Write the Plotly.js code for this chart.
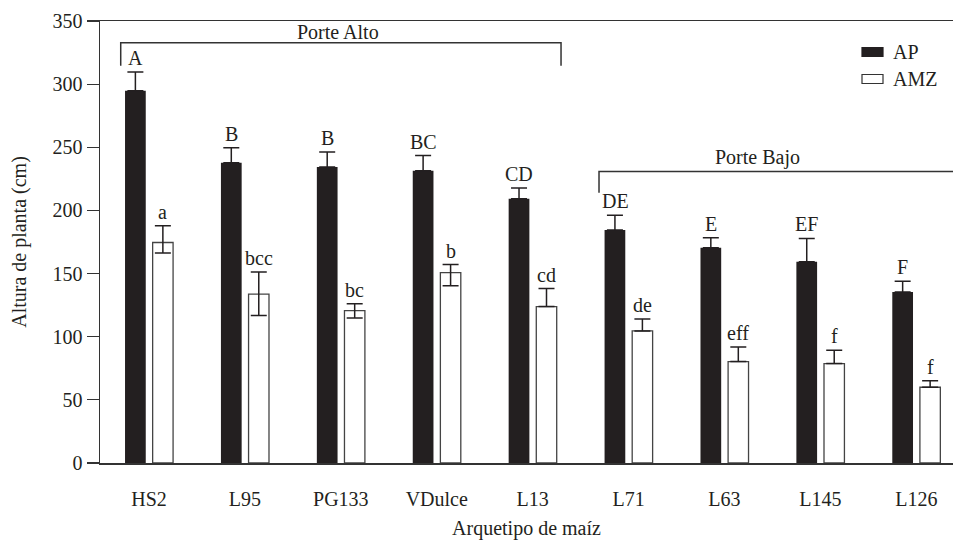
<!DOCTYPE html>
<html>
<head>
<meta charset="utf-8">
<script src="https://cdn.plot.ly/plotly-3.0.1.min.js"></script>
<style>
  html, body { margin: 0; padding: 0; background: #fff; }
  #chart { width: 953px; height: 541px; }
</style>
</head>
<body>
<div id="chart"></div>
<script>
// Plant height by maize archetype: AP vs AMZ
const categories = ["HS2", "L95", "PG133", "VDulce", "L13", "L71", "L63", "L145", "L126"];

const apValues = [294.7, 237.7, 234.3, 231.4, 209.2, 184.6, 170.4, 159.3, 135.5];
const apErrUp  = [15, 12, 12, 12, 8.5, 11.5, 8, 18.5, 8.5];
const apLetters = ["A", "B", "B", "BC", "CD", "DE", "E", "EF", "F"];

const amzValues  = [174.6, 133.7, 120.7, 150.8, 123.9, 104.6, 80.3, 78.7, 60];
const amzErrUp   = [13.2, 17.6, 5.5, 6.3, 14.2, 9.5, 11.6, 10.6, 5.2];
const amzErrDown = [8.4, 17, 5.8, 10.5, 0, 0, 0, 0, 0];
const amzLetters = ["a", "bcc", "bc", "b", "cd", "de", "eff", "f", "f"];

const seriesNames = ["AP", "AMZ"];
const yTicks = [0, 50, 100, 150, 200, 250, 300, 350];

const serif = "'Liberation Serif', 'DejaVu Serif', serif";
const ink = "#231f20";
const fs = 20;
const xIdx = categories.map((_, i) => i);

const traces = [
  {
    type: "bar", name: seriesNames[0], x: xIdx, y: apValues,
    offset: -0.25, width: 0.216, showlegend: false,
    marker: { color: ink, line: { color: ink, width: 0 } },
    error_y: { type: "data", array: apErrUp, arrayminus: apValues.map(() => 0),
               symmetric: false, color: ink, thickness: 1.5, width: 8 }
  },
  {
    type: "bar", name: seriesNames[1], x: xIdx, y: amzValues,
    offset: 0.038, width: 0.213, showlegend: false,
    marker: { color: "#ffffff", line: { color: "#444", width: 1.3 } },
    error_y: { type: "data", array: amzErrUp, arrayminus: amzErrDown,
               symmetric: false, color: ink, thickness: 1.5, width: 8 }
  }
];

const annotations = [];
categories.forEach((c, i) => {
  annotations.push({
    x: i, y: apValues[i] + apErrUp[i], xref: "x", yref: "y",
    xshift: -13.5, yshift: 1, yanchor: "bottom", showarrow: false,
    text: apLetters[i], font: { family: serif, size: fs, color: ink }
  });
  annotations.push({
    x: i, y: amzValues[i] + amzErrUp[i], xref: "x", yref: "y",
    xshift: 13.8, yshift: 1, yanchor: "bottom", showarrow: false,
    text: amzLetters[i], font: { family: serif, size: fs, color: ink }
  });
});

// group labels over the brackets
annotations.push({ x: 1.97, y: 341.5, xref: "x", yref: "y", showarrow: false,
  text: "Porte Alto", font: { family: serif, size: fs, color: ink } });
annotations.push({ x: 6.34, y: 241.7, xref: "x", yref: "y", showarrow: false,
  text: "Porte Bajo", font: { family: serif, size: fs, color: ink } });

const bracketLine = { color: "#333", width: 1.5 };
const shapes = [
  { type: "path", xref: "x", yref: "y",
    path: "M -0.295 314.6 L -0.295 332.8 L 4.296 332.8 L 4.296 314.6", line: bracketLine },
  { type: "path", xref: "x", yref: "y",
    path: "M 4.692 214 L 4.692 230.8 L 8.383 230.8", line: bracketLine }
];

// legend: wide rectangular swatches with labels (paper coordinates)
const plotW = 853, plotH = 442, plotLeft = 100, plotTop = 21;
const px = v => (v - plotLeft) / plotW;
const py = v => 1 - (v - plotTop) / plotH;
const legendRows = [
  { y0: 47.5, y1: 56.5, fill: ink, line: ink },
  { y0: 74.5, y1: 83.5, fill: "#ffffff", line: "#333" }
];
legendRows.forEach((r, k) => {
  shapes.push({ type: "rect", xref: "paper", yref: "paper",
    x0: px(862), x1: px(883), y0: py(r.y1), y1: py(r.y0),
    fillcolor: r.fill, line: { color: r.line, width: 1.2 } });
  annotations.push({ xref: "paper", yref: "paper", x: px(891), y: py((r.y0 + r.y1) / 2),
    xanchor: "left", yanchor: "middle", showarrow: false,
    text: seriesNames[k], font: { family: serif, size: fs, color: ink } });
});

const layout = {
  width: 953, height: 541,
  margin: { l: plotLeft, r: 0, t: plotTop, b: 78 },
  paper_bgcolor: "#fff", plot_bgcolor: "#fff",
  showlegend: false,
  xaxis: {
    range: [-0.511, 8.383], tickmode: "array", tickvals: xIdx, ticktext: categories,
    ticks: "", showgrid: false, zeroline: false,
    showline: true, linecolor: "#333", linewidth: 1.5, mirror: true,
    ticklabelstandoff: 17,
    tickfont: { family: serif, size: fs, color: ink },
    title: { text: "Arquetipo de maíz", font: { family: serif, size: fs, color: ink }, standoff: 12 }
  },
  yaxis: {
    range: [0, 350], tickmode: "array", tickvals: yTicks,
    ticks: "outside", ticklen: 12, tickcolor: "#333", tickwidth: 1.2,
    showgrid: false, zeroline: false,
    showline: true, linecolor: "#333", linewidth: 1.5,
    tickfont: { family: serif, size: fs, color: ink },
    title: { text: "Altura de planta (cm)", font: { family: serif, size: fs, color: ink }, standoff: 20 }
  },
  annotations: annotations,
  shapes: shapes
};

Plotly.newPlot("chart", traces, layout, { displayModeBar: false, staticPlot: true });
</script>
</body>
</html>
